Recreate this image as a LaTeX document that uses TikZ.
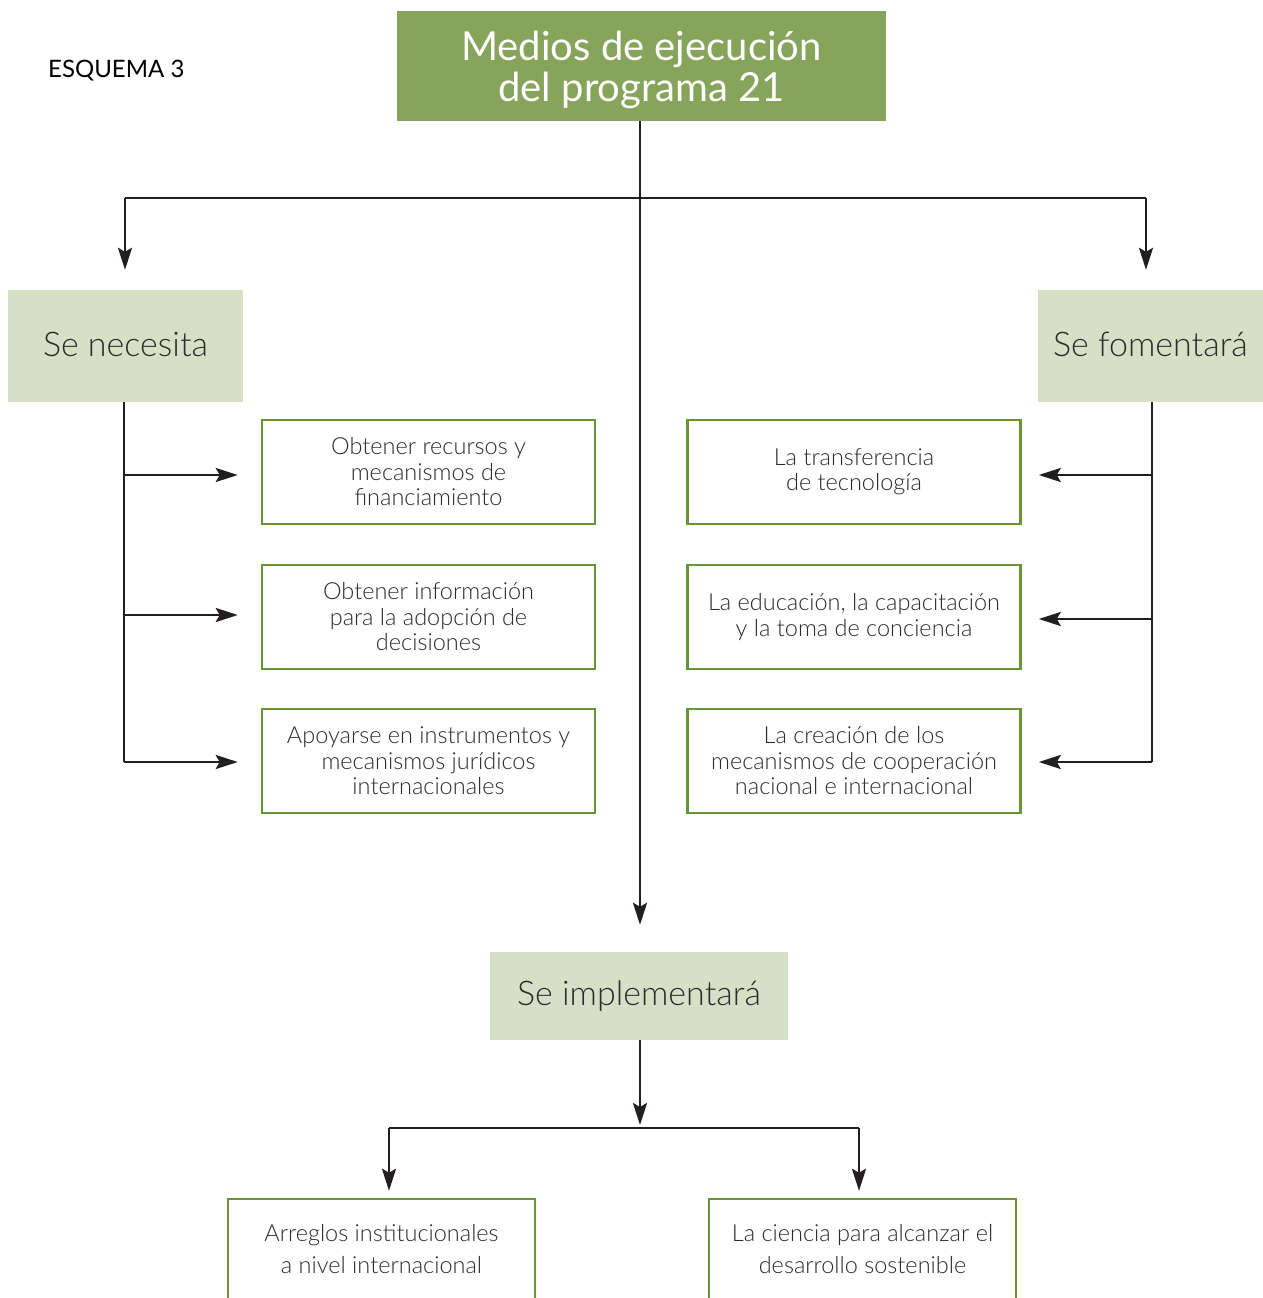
\documentclass[tikz,border=0pt]{standalone}
\usepackage{fontspec}
\setmainfont{Lato}[UprightFont=* Light, BoldFont=*]
\newfontfamily\headfont{Lato}
\usetikzlibrary{arrows.meta,calc}

\definecolor{oliveDark}{HTML}{87A45B}
\definecolor{oliveLight}{HTML}{D7E0C7}
\definecolor{frameGreen}{HTML}{6A9537}
\definecolor{inkGrey}{HTML}{2B2B2B}
\definecolor{lineInk}{HTML}{231F20}

\begin{document}
\begin{tikzpicture}[x=1pt,y=-1pt,
  titlebox/.style={fill=oliveDark, draw=none, inner sep=0pt},
  titletext/.style={text=white, align=center, inner sep=0pt,
    font=\fontsize{40}{41}\selectfont\headfont},
  headbox/.style={fill=oliveLight, draw=none, text=inkGrey, align=center,
    inner sep=0pt, font=\fontsize{34}{38}\selectfont},
  itembox/.style={draw=frameGreen, line width=2.5pt, fill=white, text=inkGrey,
    align=center, inner sep=0pt, minimum width=333pt, minimum height=104pt,
    font=\fontsize{23.5}{25.5}\selectfont},
  lowbox/.style={draw=frameGreen, line width=2.5pt, fill=white,
    inner sep=0pt, minimum width=307pt, minimum height=160pt},
  lowtext/.style={text=inkGrey, align=center, inner sep=0pt,
    font=\fontsize{23.5}{32}\selectfont},
  link/.style={draw=lineInk, line width=2.5pt},
  arr/.style={link, -{Stealth[length=22pt,width=14pt,inset=4pt]}},
]
\useasboundingbox (0,0) rectangle (1263,1298);
\clip (0,0) rectangle (1263,1298);
\fill[white] (0,0) rectangle (1263,1298);

% heading label
\node[anchor=west, text=black, inner sep=0pt, font=\fontsize{24}{26}\selectfont\headfont]
  (tag) at (48,71) {ESQUEMA 3};

% main title
\node[titlebox, minimum width=489pt, minimum height=110pt] (title) at (641.5,66) {};
\node[titletext] (titletxt) at (641.5,70) {Medios de ejecución\\del programa 21};

% three headings
\node[headbox, minimum width=235pt, minimum height=112pt] (nec) at (125.5,346) {\raisebox{3pt}{Se necesita}};
\node[headbox, minimum width=225pt, minimum height=112pt] (fom) at (1150.5,346) {\raisebox{3pt}{Se fomentará}};
\node[headbox, minimum width=298pt, minimum height=88pt] (imp) at (639,996) {\raisebox{2pt}{Se implementará}};

% left items
\node[itembox] (l1) at (428.5,472) {Obtener recursos y\\mecanismos de\\financiamiento};
\node[itembox] (l2) at (428.5,617) {Obtener información\\para la adopción de\\decisiones};
\node[itembox] (l3) at (428.5,761) {Apoyarse en instrumentos y\\mecanismos jurídicos\\internacionales};

% right items
\node[itembox] (r1) at (854,472) {La transferencia\\de tecnología};
\node[itembox] (r2) at (854,617) {La educación, la capacitación\\y la toma de conciencia};
\node[itembox] (r3) at (854,761) {La creación de los\\mecanismos de cooperación\\nacional e internacional};

% bottom items (running past the lower edge)
\node[lowbox] (b1) at (381.5,1279) {};
\node[lowtext] (b1t) at (381.5,1249) {Arreglos institucionales\\a nivel internacional};
\node[lowbox] (b2) at (862.5,1279) {};
\node[lowtext] (b2t) at (862.5,1249) {La ciencia para alcanzar el\\desarrollo sostenible};

% top distribution
\coordinate (hl) at (125,198);
\coordinate (hr) at (1146,198);
\coordinate (hm) at (640,198);
\draw[link] (hl) -- (hr);
\draw[arr, shorten >=20pt] (hl) -- (hl |- nec.north);
\draw[arr, shorten >=20pt] (hr) -- (hr |- fom.north);
\draw[arr, shorten >=27pt] (title.south -| hm) -- (imp.north -| hm);

% left spine
\coordinate (ls) at (124,402);
\draw[link] (ls) -- (124,762);
\draw[arr, shorten >=23pt] (124,475) -- (l1.west |- 0,475);
\draw[arr, shorten >=23pt] (124,615) -- (l2.west |- 0,615);
\draw[arr, shorten >=23pt] (124,762) -- (l3.west |- 0,762);

% right spine
\coordinate (rs) at (1152,402);
\draw[link] (rs) -- (1152,762);
\draw[arr, shorten >=17pt] (1152,475) -- (r1.east |- 0,475);
\draw[arr, shorten >=17pt] (1152,619) -- (r2.east |- 0,619);
\draw[arr, shorten >=17pt] (1152,762) -- (r3.east |- 0,762);

% lower distribution
\coordinate (bl) at (389,1128);
\coordinate (br) at (859,1128);
\draw[arr, shorten >=3pt] (imp.south -| hm) -- (hm |- bl);
\draw[link] (bl) -- (br);
\draw[arr, shorten >=7pt] (bl) -- (bl |- b1.north);
\draw[arr, shorten >=7pt] (br) -- (br |- b2.north);
\end{tikzpicture}
\end{document}
